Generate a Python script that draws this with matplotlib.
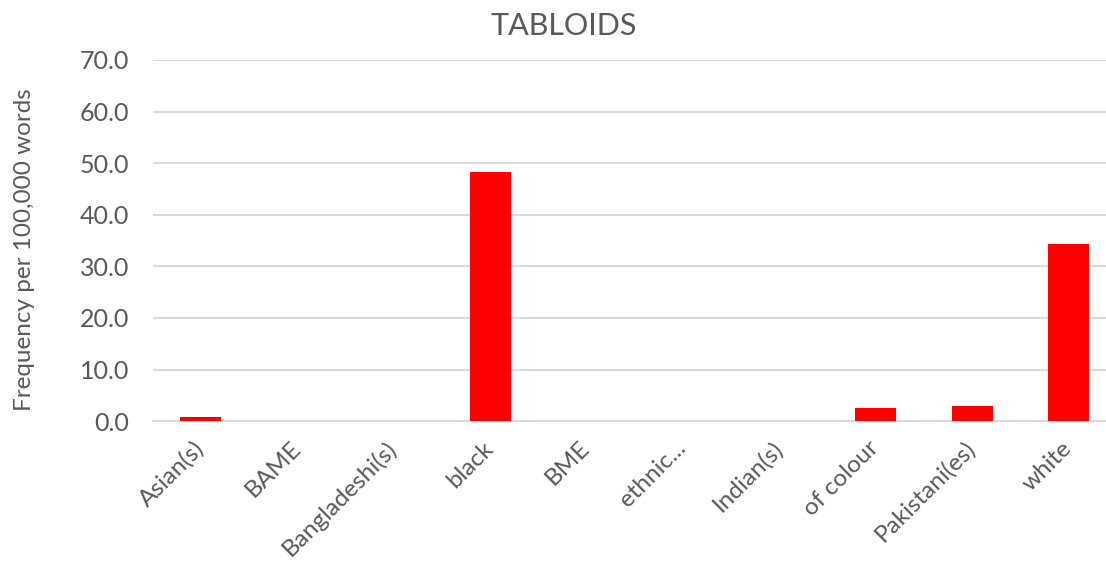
import numpy as np
import matplotlib.pyplot as plt

categories = ["Asian(s)", "BAME", "Bangladeshi(s)", "black", "BME",
              "ethnic...", "Indian(s)", "of colour", "Pakistani(es)", "white"]
values = [0.8, 0.0, 0.0, 48.3, 0.0, 0.0, 0.0, 2.5, 3.0, 34.3]
yticks = [0, 10, 20, 30, 40, 50, 60, 70]

plt.rcParams['font.family'] = ['Lato', 'DejaVu Sans']
grey = '#595959'

fig = plt.figure(figsize=(11.06, 5.66), dpi=100)
# the plot area runs a little past the right edge, as in the reference
ax = fig.add_axes([0.138, 0.256, 0.8716, 0.638])

x = np.arange(len(categories))
ax.bar(x, values, width=0.425, color='#ff0000', zorder=3)

ax.set_xlim(-0.5, len(categories) - 0.5)
ax.set_ylim(0, 70)
ax.set_yticks(yticks)
ax.set_yticklabels([f"{v:.1f}" for v in yticks], fontsize=18, color=grey)
ax.set_xticks(x)
ax.set_xticklabels(categories, rotation=45, ha='right', va='center',
                   rotation_mode='anchor', fontsize=17.5, color=grey)
ax.tick_params(axis='both', length=0)
ax.tick_params(axis='y', pad=17)
ax.tick_params(axis='x', pad=17)

ax.grid(axis='y', color='#d9d9d9', linewidth=1.5, zorder=0)
for s in ['top', 'right', 'left']:
    ax.spines[s].set_visible(False)
ax.spines['bottom'].set_color('#d9d9d9')
ax.spines['bottom'].set_linewidth(1.5)

ax.set_ylabel("Frequency per 100,000 words", fontsize=17.5, color=grey)
ax.yaxis.set_label_coords(-0.122, 0.474)
fig.text(564 / 1106, 1 - 26 / 566, "TABLOIDS", fontsize=22, color=grey,
         ha='center', va='center')

fig.savefig("out.png", dpi=100)
